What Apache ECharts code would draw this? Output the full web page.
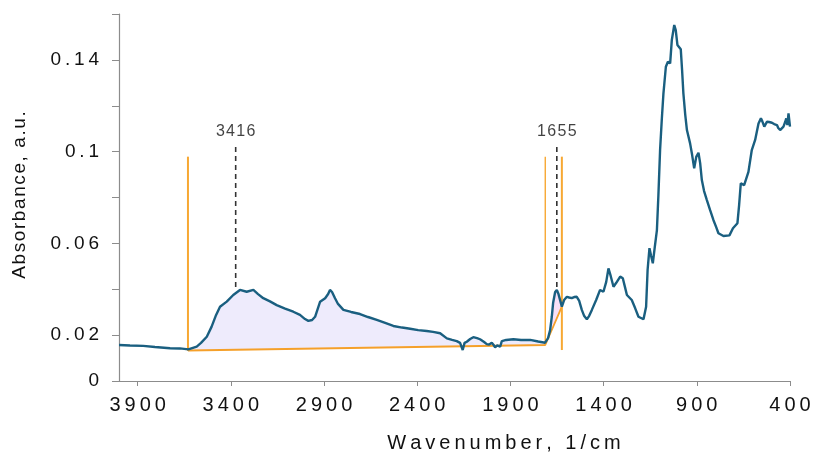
<!DOCTYPE html>
<html>
<head>
<meta charset="utf-8">
<script src="https://cdn.jsdelivr.net/npm/echarts@6/dist/echarts.min.js"></script>
<style>
html,body{margin:0;padding:0;background:#fff;}
#chart{width:814px;height:463px;}
</style>
</head>
<body>
<div id="chart"></div>
<script>
// ---- data ----
const wavenumber = [4000,3941,3870,3807,3726,3673,3628,3583,3560,3529,3503,3479,3458,3422,3387,3351,3315,3279,3254,3226,3190,3154,3109,3065,3029,3002,2984,2964,2948,2921,2894,2878,2868,2857,2841,2825,2796,2755,2707,2664,2617,2572,2528,2481,2438,2395,2349,2315,2277,2241,2213,2188,2170,2156,2146,2134,2116,2099,2079,2063,2041,2027,2014,2000,1990,1982,1971,1955,1946,1923,1884,1843,1794,1751,1714,1698,1687,1678,1671,1660,1651,1642,1624,1612,1597,1585,1571,1558,1544,1531,1517,1504,1490,1478,1463,1440,1419,1401,1386,1374,1362,1347,1333,1311,1297,1284,1275,1249,1231,1213,1186,1172,1164,1154,1145,1136,1126,1114,1106,1097,1088,1079,1066,1055,1043,1034,1021,1013,1004,986,979,972,962,953,936,925,914,903,891,882,873,861,846,829,811,796,784,757,725,706,682,673,664,646,623,605,587,569,556,549,538,524,512,497,485,470,463,453,435,426,420,414,408,400];
const absorbance = [0.0157,0.0155,0.0153,0.0148,0.0143,0.0142,0.0138,0.0150,0.0166,0.0193,0.0237,0.0288,0.0324,0.0346,0.0375,0.0397,0.0389,0.0397,0.0379,0.0361,0.0347,0.0331,0.0316,0.0302,0.0288,0.0270,0.0262,0.0266,0.0280,0.0346,0.0361,0.0379,0.0397,0.0388,0.0361,0.0336,0.0310,0.0301,0.0292,0.0279,0.0266,0.0253,0.0240,0.0233,0.0228,0.0222,0.0218,0.0214,0.0208,0.0186,0.0179,0.0174,0.0166,0.0135,0.0166,0.0171,0.0183,0.0191,0.0187,0.0182,0.0170,0.0161,0.0159,0.0167,0.0157,0.0147,0.0155,0.0150,0.0174,0.0179,0.0182,0.0179,0.0179,0.0172,0.0167,0.0187,0.0222,0.0280,0.0340,0.0388,0.0397,0.0379,0.0324,0.0353,0.0367,0.0364,0.0361,0.0366,0.0367,0.0349,0.0310,0.0283,0.0269,0.0283,0.0310,0.0353,0.0397,0.0389,0.0432,0.0491,0.0458,0.0411,0.0427,0.0455,0.0448,0.0405,0.0375,0.0353,0.0318,0.0280,0.0269,0.0324,0.0484,0.0579,0.0545,0.0513,0.0580,0.0658,0.0811,0.1007,0.1138,0.1254,0.1370,0.1392,0.1385,0.1487,0.1552,0.1530,0.1465,0.1446,0.1356,0.1254,0.1160,0.1094,0.1036,0.0985,0.0927,0.0977,0.0995,0.0950,0.0876,0.0828,0.0789,0.0746,0.0702,0.0671,0.0644,0.0632,0.0635,0.0666,0.0688,0.0767,0.0862,0.0854,0.0912,0.1007,0.1051,0.1123,0.1145,0.1133,0.1109,0.1130,0.1129,0.1126,0.1120,0.1116,0.1103,0.1094,0.1109,0.1129,0.1145,0.1116,0.1167,0.1109];

const xTicks = [3900,3400,2900,2400,1900,1400,900,400];
const yTicks = [0,0.02,0.04,0.06,0.08,0.10,0.12,0.14,0.16];
const yLabels = [0,0.02,0.06,0.1,0.14];

// integration bands: [start, end] wavenumber and baseline values at the ends
const bandStart = [3630, 1713];
const bandEnd = [1713, 1624];
const bandBaseStart = [0.0133, 0.0157];
const bandBaseEnd = [0.0157, 0.0324];
const bandColors = ['#eeebfc', '#f7e0f7'];

// orange limit lines
const limitPos = [3630, 1713, 1624];
const limitTop = [0.0978, 0.0978, 0.0978];
const limitBottom = [0.0131, 0.0157, 0.0135];
const limitWidth = [2, 1.4, 2];

// peak markers
const peakText = ['3416', '1655'];
const peakPos = [3374, 1651];
const peakTop = [0.102, 0.102];
const peakBottom = [0.0405, 0.0397];

const FONT = 'Liberation Sans, Arial, sans-serif';
const spaced = (s, sp) => String(s).split('').join(sp || '\u2009');

const curve = wavenumber.map((w, i) => [w, absorbance[i]]);

const series = [];

// filled bands (custom polygons through the axis scales)
series.push({
  type: 'custom',
  z: 1,
  silent: true,
  data: bandStart.map((s, i) => [s, bandEnd[i], bandBaseStart[i], bandBaseEnd[i]]),
  encode: { x: [0, 1], y: [2, 3] },
  renderItem: function (params, api) {
    const i = params.dataIndex;
    const a = bandStart[i], b = bandEnd[i];
    const pts = [api.coord([a, bandBaseStart[i]])];
    for (let k = 0; k < wavenumber.length; k++) {
      if (wavenumber[k] <= a && wavenumber[k] >= b) pts.push(api.coord([wavenumber[k], absorbance[k]]));
    }
    pts.push(api.coord([b, bandBaseEnd[i]]));
    return { type: 'polygon', shape: { points: pts }, style: { fill: bandColors[i] } };
  }
});

// baseline
series.push({
  type: 'line', z: 3, symbol: 'none', silent: true,
  data: [[bandStart[0], bandBaseStart[0]], [bandEnd[0], bandBaseEnd[0]], [bandEnd[1], bandBaseEnd[1]]],
  lineStyle: { color: '#f5a02a', width: 1.8 }
});

// vertical limit lines
limitPos.forEach((p, i) => {
  series.push({
    type: 'line', z: 3, symbol: 'none', silent: true,
    data: [[p, limitTop[i]], [p, limitBottom[i]]],
    lineStyle: { color: '#f7a833', width: limitWidth[i] }
  });
});

// peak dashed lines
peakPos.forEach((p, i) => {
  series.push({
    type: 'line', z: 4, symbol: 'none', silent: true,
    data: [[p, peakTop[i]], [p, peakBottom[i]]],
    lineStyle: { color: '#333', width: 1.6, type: [5, 4] }
  });
});

// peak labels
series.push({
  type: 'scatter', z: 6, silent: true, symbolSize: 0,
  data: peakPos.map((p, i) => [p, peakTop[i]]),
  label: {
    show: true, position: 'top', distance: 7,
    formatter: params => spaced(peakText[params.dataIndex], '\u200A'),
    color: '#111', fontSize: 16, fontFamily: FONT
  }
});

// spectrum
series.push({
  type: 'line', z: 5, symbol: 'none', silent: true,
  data: curve,
  lineStyle: { color: '#1a5f80', width: 2.4 }
});

const chart = echarts.init(document.getElementById('chart'), null, { renderer: 'canvas' });
chart.setOption({
  animation: false,
  backgroundColor: '#fff',
  grid: { left: 119, right: 24, top: 14, bottom: 82 },
  xAxis: {
    type: 'value', inverse: true, min: 400, max: 4000, interval: 500,
    splitLine: { show: false },
    axisLine: { lineStyle: { color: '#8c8c8c', width: 1.2 } },
    axisTick: { customValues: xTicks, length: 5, lineStyle: { color: '#8c8c8c' } },
    axisLabel: { customValues: xTicks, formatter: v => spaced(v), color: '#111', fontSize: 20, fontFamily: FONT, margin: 14 }
  },
  yAxis: {
    type: 'value', min: 0, max: 0.16, interval: 0.02,
    splitLine: { show: false },
    axisLine: { show: true, lineStyle: { color: '#8c8c8c', width: 1.2 } },
    axisTick: { show: true, customValues: yTicks, length: 7, lineStyle: { color: '#8c8c8c' } },
    axisLabel: { customValues: yLabels, formatter: v => spaced(+v.toFixed(2)), color: '#111', fontSize: 19, fontFamily: FONT, margin: 20 }
  },
  graphic: [{
    type: 'text', x: 504, y: 443,
    style: { text: spaced('Wavenumber, 1/cm'), fill: '#111', font: '20px ' + FONT, align: 'center', verticalAlign: 'middle' }
  }, {
    type: 'text', x: 20, y: 195, rotation: Math.PI / 2,
    style: { text: spaced('Absorbance, a.u.', '\u200A'), fill: '#111', font: '19px ' + FONT, align: 'center', verticalAlign: 'middle' }
  }],
  series: series
});
</script>
</body>
</html>
